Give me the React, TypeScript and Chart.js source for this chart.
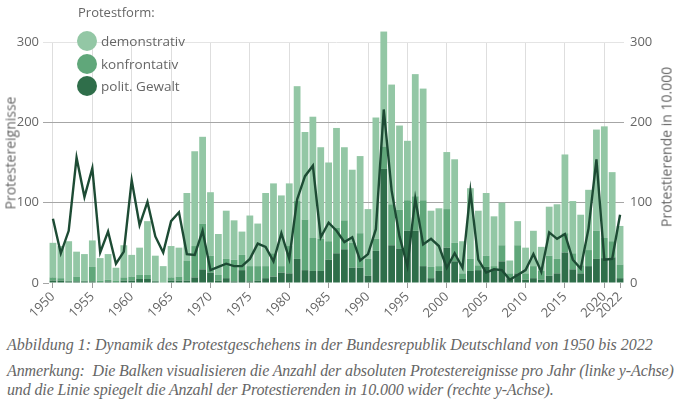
import React, { useEffect, useRef } from 'react';
import Chart from 'chart.js/auto';

// Jahre 1950 bis 2022
const YEARS = [
  1950, 1951, 1952, 1953, 1954, 1955, 1956, 1957, 1958, 1959,
  1960, 1961, 1962, 1963, 1964, 1965, 1966, 1967, 1968, 1969,
  1970, 1971, 1972, 1973, 1974, 1975, 1976, 1977, 1978, 1979,
  1980, 1981, 1982, 1983, 1984, 1985, 1986, 1987, 1988, 1989,
  1990, 1991, 1992, 1993, 1994, 1995, 1996, 1997, 1998, 1999,
  2000, 2001, 2002, 2003, 2004, 2005, 2006, 2007, 2008, 2009,
  2010, 2011, 2012, 2013, 2014, 2015, 2016, 2017, 2018, 2019,
  2020, 2021, 2022,
];

// Protestereignisse pro Jahr, nach Protestform (linke Achse)
const GEWALT = [
  3, 3, 2, 2, 2, 2, 1, 2, 1, 3,
  3, 5, 5, 2, 0, 3, 3, 3, 7, 17,
  13, 3, 6, 2, 16, 2, 3, 6, 8, 13,
  12, 30, 16, 15, 15, 29, 37, 42, 19, 19,
  9, 40, 142, 47, 43, 65, 65, 21, 6, 15,
  44, 27, 5, 15, 16, 20, 16, 27, 6, 12,
  4, 6, 4, 9, 12, 38, 17, 12, 21, 30,
  31, 32, 6,
];
const KONFRONTATIV = [
  4, 3, 1, 6, 1, 18, 2, 2, 2, 4,
  5, 5, 5, 1, 1, 4, 5, 25, 39, 57,
  21, 7, 24, 27, 19, 19, 18, 15, 29, 8,
  34, 72, 63, 41, 40, 23, 32, 36, 31, 43,
  21, 15, 28, 51, 48, 38, 43, 82, 14, 6,
  48, 23, 7, 15, 6, 14, 5, 20, 6, 35,
  8, 15, 11, 25, 18, 24, 20, 10, 20, 35,
  25, 20, 17,
];
const DEMONSTRATIV = [
  43, 40, 49, 31, 33, 33, 28, 32, 16, 40,
  27, 34, 67, 31, 20, 39, 36, 84, 118, 108,
  79, 51, 60, 49, 29, 63, 53, 91, 87, 88,
  78, 143, 109, 151, 114, 98, 124, 91, 91, 96,
  62, 151, 143, 149, 105, 74, 152, 139, 70, 72,
  71, 104, 40, 88, 68, 78, 62, 53, 16, 30,
  32, 44, 30, 61, 68, 98, 65, 63, 75, 126,
  139, 86, 48,
];

// Protestierende in 10.000 (rechte Achse)
const PROTESTIERENDE = [
  80, 37, 65, 156, 107, 143, 38, 64, 24, 39,
  128, 72, 101, 58, 38, 77, 88, 36, 35, 65,
  16, 20, 24, 21, 21, 30, 49, 45, 27, 62,
  30, 104, 133, 146, 57, 75, 65, 51, 57, 28,
  36, 67, 216, 115, 58, 21, 105, 48, 55, 46,
  19, 37, 19, 114, 29, 13, 17, 16, 4, 10,
  16, 36, 14, 63, 55, 61, 29, 18, 68, 154,
  29, 30, 85,
];

const LEGEND = [
  { label: 'demonstrativ', color: '#93c7a5' },
  { label: 'konfrontativ', color: '#60a77a' },
  { label: 'polit. Gewalt', color: '#2f6e4a' },
];

const TEXT = '#666666';
const FONT = "'Open Sans', sans-serif";

const isLabelYear = (y: number) => y % 5 === 0 || y === 2022;

const App: React.FC = () => {
  const canvasRef = useRef<HTMLCanvasElement>(null);
  const chartRef = useRef<Chart | null>(null);

  useEffect(() => {
    if (!canvasRef.current) return;
    const ctx = canvasRef.current.getContext('2d');
    if (!ctx) return;

    const barCommon = {
      type: 'bar' as const,
      yAxisID: 'y',
      stack: 'ereignisse',
      order: 1,
      barPercentage: 0.86,
      categoryPercentage: 1,
      borderWidth: 0,
      clip: false as const, // 1992 ragt über 300 hinaus
    };

    chartRef.current = new Chart(ctx, {
      type: 'bar',
      data: {
        labels: YEARS.map(String),
        datasets: [
          {
            type: 'line',
            label: 'Protestierende',
            data: PROTESTIERENDE,
            yAxisID: 'y1',
            order: 0,
            borderColor: '#1d4b34',
            borderWidth: 2.4,
            pointRadius: 0,
            tension: 0,
            fill: false,
          },
          { ...barCommon, label: 'polit. Gewalt', data: GEWALT, backgroundColor: LEGEND[2].color },
          { ...barCommon, label: 'konfrontativ', data: KONFRONTATIV, backgroundColor: LEGEND[1].color },
          { ...barCommon, label: 'demonstrativ', data: DEMONSTRATIV, backgroundColor: LEGEND[0].color },
        ] as any,
      },
      options: {
        animation: false,
        responsive: true,
        maintainAspectRatio: false,
        layout: { padding: { top: 42, left: 0, right: 0, bottom: 0 } },
        plugins: { legend: { display: false }, tooltip: { enabled: false } },
        scales: {
          x: {
            stacked: true,
            border: { display: false },
            grid: {
              offset: false,
              color: (c: any) => (YEARS[c.index] % 5 === 0 ? '#dedede' : 'transparent'),
              tickColor: (c: any) => (isLabelYear(YEARS[c.index]) ? '#9a9a9a' : 'transparent'),
              tickLength: 5,
            },
            ticks: {
              autoSkip: false,
              maxRotation: 45,
              minRotation: 45,
              padding: 1,
              color: TEXT,
              font: { family: FONT, size: 13 },
              callback: (_v: any, i: number) => (isLabelYear(YEARS[i]) ? String(YEARS[i]) : ''),
            },
            afterFit: (s: any) => { s.height = 47; },
          },
          y: {
            stacked: true,
            position: 'left',
            min: 0,
            max: 300,
            border: { display: false },
            grid: {
              color: (c: any) => {
                const v = c.tick.value;
                if (v === 0) return 'transparent';
                return v === 300 ? '#e4e4e4' : '#a6a6a6';
              },
              tickColor: (c: any) => (c.tick.value === 300 ? '#e4e4e4' : '#a6a6a6'),
              tickLength: 6,
            },
            ticks: {
              stepSize: 100,
              padding: 4,
              color: TEXT,
              font: { family: FONT, size: 13 },
            },
            afterFit: (s: any) => { s.width = 49; },
          },
          y1: {
            position: 'right',
            min: 0,
            max: 300,
            border: { display: false },
            grid: { drawOnChartArea: false, drawTicks: false },
            ticks: {
              stepSize: 100,
              padding: 6,
              color: TEXT,
              font: { family: FONT, size: 13 },
            },
            afterFit: (s: any) => { s.width = 56; },
          },
        },
      },
    });

    return () => {
      if (chartRef.current) {
        chartRef.current.destroy();
        chartRef.current = null;
      }
    };
  }, []);

  const axisTitle: React.CSSProperties = {
    position: 'absolute',
    transform: 'translate(-50%, -50%) rotate(-90deg)',
    whiteSpace: 'nowrap',
    fontFamily: FONT,
    fontSize: 14,
    color: TEXT,
  };

  const caption: React.CSSProperties = {
    position: 'absolute',
    left: 7,
    whiteSpace: 'nowrap',
    fontFamily: "'Liberation Serif', serif",
    fontStyle: 'italic',
    fontSize: 16,
    color: TEXT,
  };

  return (
    <div style={{ position: 'absolute', left: 0, top: 0, width: 680, height: 405, background: '#fff', overflow: 'hidden' }}>
      <div style={{ position: 'absolute', left: 0, top: 0, width: 680, height: 330 }}>
        <canvas ref={canvasRef}></canvas>
      </div>

      <div style={{ ...axisTitle, left: 10, top: 153 }}>Protestereignisse</div>
      <div style={{ ...axisTitle, left: 666, top: 147 }}>Protestierende in 10.000</div>

      <div style={{ position: 'absolute', left: 78, top: 3, fontFamily: FONT, fontSize: 13, color: TEXT }}>Protestform:</div>
      {LEGEND.map((item, i) => (
        <div key={item.label} style={{ position: 'absolute', left: 77, top: 31 + i * 22.5, display: 'flex', alignItems: 'center', fontFamily: FONT, fontSize: 13.5, color: TEXT }}>
          <span style={{ width: 20, height: 20, borderRadius: '50%', background: item.color, display: 'inline-block', marginRight: 4 }} />
          <span>{item.label}</span>
        </div>
      ))}

      <div style={{ ...caption, top: 336 }}>Abbildung 1: Dynamik des Protestgeschehens in der Bundesrepublik Deutschland von 1950 bis 2022</div>
      <div style={{ ...caption, top: 362, letterSpacing: -0.13 }}>Anmerkung:&nbsp; Die Balken visualisieren die Anzahl der absoluten Protestereignisse pro Jahr (linke y-Achse)</div>
      <div style={{ ...caption, top: 381, letterSpacing: -0.13 }}>und die Linie spiegelt die Anzahl der Protestierenden in 10.000 wider (rechte y-Achse).</div>
    </div>
  );
};

export default App;
